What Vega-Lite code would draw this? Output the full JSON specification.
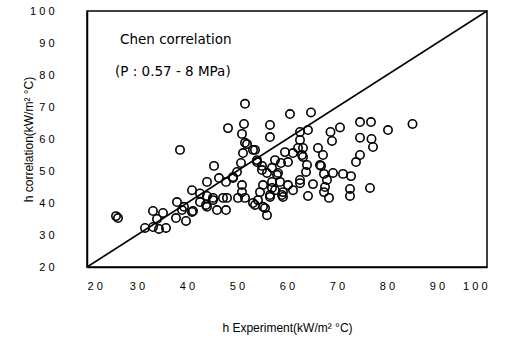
{
  "$schema": "https://vega.github.io/schema/vega-lite/v6.json",
  "width": 400,
  "height": 256,
  "autosize": {"type": "none"},
  "padding": {"left": 87, "top": 11, "right": 20, "bottom": 78},
  "background": "white",
  "config": {
    "view": {"stroke": "black", "strokeWidth": 1.5},
    "axis": {
      "domainColor": "black", "domainWidth": 1.5,
      "ticks": false,
      "labelFont": "Liberation Sans", "labelFontSize": 11, "labelColor": "black",
      "labelOverlap": false,
      "titleFont": "Liberation Sans", "titleFontSize": 12, "titleFontWeight": "normal", "titleColor": "black",
      "grid": false
    }
  },
  "datasets": {
    "major": [{"t": 30}, {"t": 40}, {"t": 50}, {"t": 60}, {"t": 70}, {"t": 80}, {"t": 90}],
    "minor": [{"t": 25}, {"t": 35}, {"t": 45}, {"t": 55}, {"t": 65}, {"t": 75}, {"t": 85}, {"t": 95}]
  },
  "encoding": {
    "x": {"field": "he", "type": "quantitative", "scale": {"domain": [20, 100], "nice": false, "zero": false},
      "axis": {"orient": "bottom", "values": [20,30,40,50,60,70,80,90,100],
        "labelPadding": 13, "labelOverlap": false,
        "labelExpr": "join(split(datum.label, ''), ' ')",
        "title": "h Experiment(kW/m² °C)", "titlePadding": 31}},
    "y": {"field": "hc", "type": "quantitative", "scale": {"domain": [20, 100], "nice": false, "zero": false},
      "axis": {"orient": "left", "values": [20,30,40,50,60,70,80,90,100],
        "labelPadding": 33, "labelOverlap": false,
        "labelExpr": "join(split(datum.label, ''), ' ')",
        "title": "h correlation(kW/m² °C)", "titlePadding": -6}}
  },
  "layer": [
    {
      "data": {"values": [
        {"he":25.8,"hc":35.9},{"he":26.2,"hc":35.3},{"he":31.6,"hc":32.2},{"he":33.2,"hc":37.5},{"he":35.2,"hc":36.9},
        {"he":34,"hc":35},{"he":33.2,"hc":32.5},{"he":34.4,"hc":31.9},{"he":35.8,"hc":32.2},{"he":38,"hc":40.3},
        {"he":37.8,"hc":35.3},{"he":39,"hc":37.8},{"he":39.8,"hc":34.4},{"he":41,"hc":37.2},{"he":39.4,"hc":38.8},
        {"he":42.6,"hc":40.3},{"he":44,"hc":46.6},{"he":44,"hc":38.8},{"he":38.6,"hc":56.6},{"he":45.4,"hc":51.6},
        {"he":46.4,"hc":47.8},{"he":47.8,"hc":46.6},{"he":46,"hc":37.8},{"he":47.8,"hc":37.8},{"he":45.2,"hc":41.6},
        {"he":47.2,"hc":41.6},{"he":48,"hc":41.6},{"he":41.2,"hc":37.5},{"he":49.2,"hc":47.8},{"he":50,"hc":49.7},
        {"he":50.8,"hc":52.5},{"he":51.2,"hc":55.6},{"he":52,"hc":58.4},{"he":51,"hc":61.6},{"he":48.2,"hc":63.4},
        {"he":51,"hc":45.6},{"he":51,"hc":43.4},{"he":50.2,"hc":41.6},{"he":51.6,"hc":41.6},{"he":53.6,"hc":56.6},
        {"he":54,"hc":52.8},{"he":55,"hc":51.6},{"he":53.6,"hc":39.4},{"he":54.2,"hc":40.9},{"he":54.6,"hc":43.4},
        {"he":55.2,"hc":45.6},{"he":55.6,"hc":38.4},{"he":56,"hc":36.2},{"he":56.6,"hc":60.6},{"he":56.6,"hc":64.4},
        {"he":56,"hc":49.4},{"he":57,"hc":51},{"he":57,"hc":46.6},{"he":56.6,"hc":42.5},{"he":57.6,"hc":44},
        {"he":58.2,"hc":49.4},{"he":58.8,"hc":52.5},{"he":58.6,"hc":46.6},{"he":59.2,"hc":41.9},{"he":59.6,"hc":55.9},
        {"he":60.2,"hc":52.8},{"he":59.2,"hc":43.4},{"he":51.6,"hc":71},{"he":51.4,"hc":64.7},{"he":60.6,"hc":67.8},
        {"he":64.8,"hc":68.3},{"he":51.6,"hc":58.8},{"he":53.2,"hc":56.6},{"he":54,"hc":53.4},{"he":61.2,"hc":55.6},
        {"he":62.6,"hc":62.2},{"he":62.6,"hc":59.7},{"he":62.2,"hc":57.2},{"he":63,"hc":55},{"he":64.2,"hc":62.8},
        {"he":68.7,"hc":62.2},{"he":70.6,"hc":63.6},{"he":74.6,"hc":65.3},{"he":76.8,"hc":65.3},{"he":80.2,"hc":62.8},
        {"he":85.1,"hc":64.7},{"he":74.6,"hc":60.4},{"he":76.9,"hc":60},{"he":69,"hc":59.4},{"he":77.2,"hc":57.5},
        {"he":66.2,"hc":57.2},{"he":67.2,"hc":55},{"he":74.6,"hc":55},{"he":73.8,"hc":52.8},{"he":63.2,"hc":57.2},
        {"he":63.2,"hc":54.4},{"he":64,"hc":51.9},{"he":66.6,"hc":51.9},{"he":63.8,"hc":49.7},{"he":66.8,"hc":51.6},
        {"he":67.4,"hc":49.1},{"he":69.2,"hc":49.4},{"he":71.2,"hc":49.1},{"he":72.8,"hc":48.4},{"he":68,"hc":47.2},
        {"he":67.6,"hc":45},{"he":65.2,"hc":45.9},{"he":62.6,"hc":46.2},{"he":64.2,"hc":42.2},{"he":67.4,"hc":43.4},
        {"he":68.4,"hc":41.6},{"he":72.6,"hc":44.4},{"he":72.6,"hc":42.2},{"he":76.6,"hc":44.7},{"he":49.2,"hc":48.1},
        {"he":44,"hc":42.2},{"he":43.8,"hc":39.4},{"he":45.2,"hc":40.9},{"he":53.2,"hc":40},{"he":55.2,"hc":38.8},
        {"he":56.6,"hc":41.9},{"he":57,"hc":44.7},{"he":59,"hc":42.5},{"he":60.2,"hc":45.6},{"he":61.2,"hc":44},
        {"he":62.6,"hc":47.2},{"he":55,"hc":50.3},{"he":58,"hc":48.8},{"he":57.6,"hc":53.4},{"he":41,"hc":44},
        {"he":42.6,"hc":43}
      ]},
      "mark": {"type": "point", "filled": false, "stroke": "black", "strokeWidth": 1.6, "size": 70, "opacity": 1}
    },
    {
      "data": {"name": "major"},
      "mark": {"type": "rule", "color": "black", "strokeWidth": 1.5},
      "encoding": {
        "x": {"field": "t", "type": "quantitative"},
        "y": {"datum": 20, "type": "quantitative"},
        "y2": {"datum": 22.3}
      }
    },
    {
      "data": {"name": "minor"},
      "mark": {"type": "rule", "color": "black", "strokeWidth": 1.5},
      "encoding": {
        "x": {"field": "t", "type": "quantitative"},
        "y": {"datum": 20, "type": "quantitative"},
        "y2": {"datum": 21.3}
      }
    },
    {
      "data": {"name": "major"},
      "mark": {"type": "rule", "color": "black", "strokeWidth": 1.5},
      "encoding": {
        "y": {"field": "t", "type": "quantitative"},
        "x": {"datum": 20, "type": "quantitative"},
        "x2": {"datum": 21.5}
      }
    },
    {
      "data": {"name": "minor"},
      "mark": {"type": "rule", "color": "black", "strokeWidth": 1.5},
      "encoding": {
        "y": {"field": "t", "type": "quantitative"},
        "x": {"datum": 20, "type": "quantitative"},
        "x2": {"datum": 20.8}
      }
    },
    {
      "data": {"values": [{"he": 20, "hc": 20}, {"he": 100, "hc": 100}]},
      "mark": {"type": "line", "color": "black", "strokeWidth": 1.5}
    },
    {
      "data": {"values": [
        {"label": "Chen correlation", "he": 26.6, "hc": 90.9},
        {"label": "(P : 0.57 - 8 MPa)", "he": 25.6, "hc": 80.9}
      ]},
      "mark": {"type": "text", "align": "left", "baseline": "middle", "font": "DejaVu Sans", "fontSize": 13.5, "color": "black"},
      "encoding": {
        "text": {"field": "label"}
      }
    }
  ]
}
